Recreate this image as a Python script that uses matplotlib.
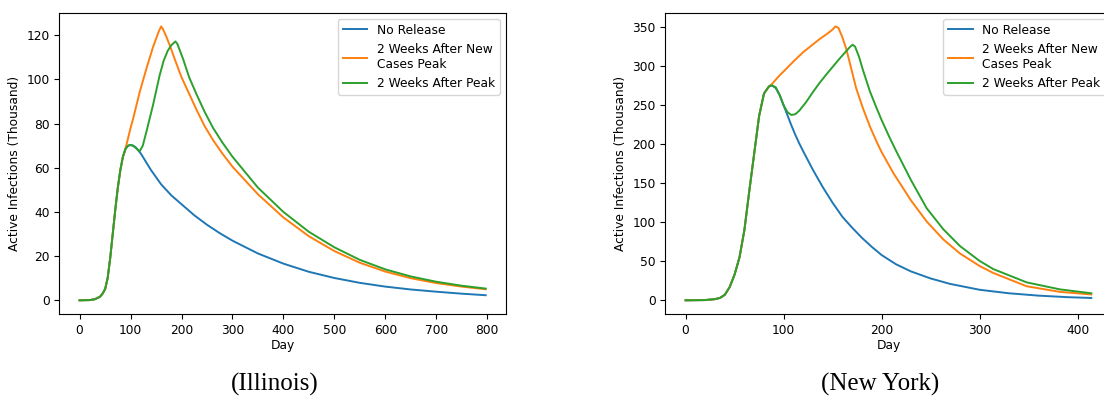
import matplotlib
matplotlib.use("Agg")
import matplotlib.pyplot as plt

# ---------------- Illinois ----------------
il_blue_days = [0, 20, 30, 40, 45, 50, 55, 60, 65, 70, 75, 80, 85, 90, 95, 100, 105, 110,
                120, 140, 160, 180, 200, 225, 250, 275, 300, 350, 400, 450, 500, 550, 600,
                650, 700, 750, 797]
il_blue_vals = [0, 0.1, 0.5, 1.6, 3, 5, 10, 19, 30, 41, 51, 59, 65, 68.5, 70, 70.3, 70, 69.3,
                66.5, 59, 52.5, 47.5, 43.5, 38.5, 34.2, 30.4, 27, 21.2, 16.6, 12.9, 10.1, 7.9,
                6.2, 4.9, 3.9, 3.0, 2.3]

il_orange_days = [0, 20, 30, 40, 45, 50, 55, 60, 65, 70, 75, 80, 85, 88, 92, 100, 105, 118,
                  131, 144, 155, 160, 163, 170, 177, 187, 200, 212, 229, 245, 262, 280, 300,
                  350, 400, 450, 500, 550, 600, 650, 700, 750, 797]
il_orange_vals = [0, 0.1, 0.5, 1.6, 3, 5, 10, 19, 30, 41, 51, 59, 65, 67, 70.5, 78, 82.2, 94.3,
                  104.8, 114.6, 121.5, 124, 123, 119.5, 115.4, 109, 101, 95, 86.5, 79, 72.5,
                  66.5, 60.5, 48, 37.5, 29, 22.3, 17, 13, 10, 7.8, 6.2, 5]

il_green_days = [0, 20, 30, 40, 45, 50, 55, 60, 65, 70, 75, 80, 85, 90, 95, 100, 105, 110, 118,
                 124, 131, 144, 157, 165, 173, 180, 188, 192, 203, 215, 229, 245, 262, 280, 300,
                 350, 400, 450, 500, 550, 600, 650, 700, 750, 797]
il_green_vals = [0, 0.1, 0.5, 1.6, 3, 5, 10, 19, 30, 41, 51, 59, 65, 68.5, 70, 70.3, 70, 69,
                 67.5, 70, 76.2, 88.3, 101.8, 108.5, 113, 115.5, 117.2, 116, 109.3, 101, 93.5,
                 85.5, 78, 71.5, 65, 51, 40, 31, 24, 18.3, 14, 10.8, 8.4, 6.6, 5.3]

# ---------------- New York ----------------
ny_blue_days = [0, 20, 30, 35, 40, 45, 50, 55, 60, 65, 70, 75, 80, 85, 88, 92, 96, 100, 104,
                108, 112, 116, 120, 130, 140, 150, 160, 170, 180, 190, 200, 215, 230, 250,
                270, 300, 330, 360, 390, 414]
ny_blue_vals = [0, 0.3, 1.5, 3, 7, 17, 33, 55, 90, 140, 188, 236, 265, 274, 275.5, 272, 263,
                250, 237, 224, 212, 201, 191, 167, 145, 125, 107, 93, 80, 68.5, 58, 46, 37,
                28, 21, 13.5, 9, 6, 4, 3]

ny_orange_days = [0, 20, 30, 35, 40, 45, 50, 55, 60, 65, 70, 75, 80, 85, 88, 95, 103, 110,
                  120, 130, 137, 145, 150, 153, 156, 160, 164, 170, 174, 181, 188, 195, 200,
                  212, 230, 246, 263, 280, 300, 314, 348, 382, 414]
ny_orange_vals = [0, 0.3, 1.5, 3, 7, 17, 33, 55, 90, 140, 188, 236, 265, 274, 277, 287, 297,
                  306, 318, 328, 335, 342, 347, 351, 349, 337, 322, 292, 272, 246, 223, 203,
                  190, 163, 128, 101, 78, 60, 44, 35, 18, 10.8, 7.5]

ny_green_days = [0, 20, 30, 35, 40, 45, 50, 55, 60, 65, 70, 75, 80, 85, 88, 92, 96, 100, 104,
                 108, 112, 116, 123, 130, 137, 144, 150, 157, 163, 168, 170.5, 173, 177, 181,
                 188, 195, 200, 208, 215, 230, 246, 263, 280, 300, 314, 348, 382, 414]
ny_green_vals = [0, 0.3, 1.5, 3, 7, 17, 33, 55, 90, 140, 188, 236, 265, 274, 275.5, 273, 263,
                 250, 241, 237.5, 238.5, 243, 254, 267, 279, 290, 299, 309.5, 318, 325, 327.5,
                 325, 312, 295, 268, 246, 231, 209, 191, 154, 118, 91, 69.5, 50.5, 40, 23, 14, 9]

series_labels = ["No Release", "2 Weeks After New\nCases Peak", "2 Weeks After Peak"]
captions = ["(Illinois)", "(New York)"]
x_label = "Day"
y_label = "Active Infections (Thousand)"

colors = ["#1f77b4", "#ff7f0e", "#2ca02c"]
FS = 8.8
W, H = 1104, 396

fig = plt.figure(figsize=(W / 100, H / 100), dpi=100)

def px_axes(left, top, right, bottom):
    return fig.add_axes([left / W, 1 - bottom / H, (right - left) / W, (bottom - top) / H])

ax1 = px_axes(59.3, 12.7, 506, 314)
ax2 = px_axes(665.3, 12.7, 1111.6, 314)

panels = [
    (ax1, [(il_blue_days, il_blue_vals), (il_orange_days, il_orange_vals),
           (il_green_days, il_green_vals)]),
    (ax2, [(ny_blue_days, ny_blue_vals), (ny_orange_days, ny_orange_vals),
           (ny_green_days, ny_green_vals)]),
]

for ax, data in panels:
    for (d, v), c, lab in zip(data, colors, series_labels):
        ax.plot(d, v, color=c, lw=1.4, label=lab)
    ax.set_xlabel(x_label, fontsize=FS, labelpad=2)
    ax.set_ylabel(y_label, fontsize=FS, labelpad=4)
    ax.tick_params(labelsize=FS, length=3.5)
    ax.legend(loc="upper right", fontsize=FS, handlelength=2.0)

ax1.set_xticks([0, 100, 200, 300, 400, 500, 600, 700, 800])
ax1.set_yticks([0, 20, 40, 60, 80, 100, 120])
ax2.set_xticks([0, 100, 200, 300, 400])
ax2.set_yticks([0, 50, 100, 150, 200, 250, 300, 350])

fig.text(274.5 / W, 1 - 384 / H, captions[0], ha="center", va="center",
         fontsize=18, family="Liberation Serif")
fig.text(880.3 / W, 1 - 384 / H, captions[1], ha="center", va="center",
         fontsize=18, family="Liberation Serif")

fig.savefig("out.png", dpi=100)
